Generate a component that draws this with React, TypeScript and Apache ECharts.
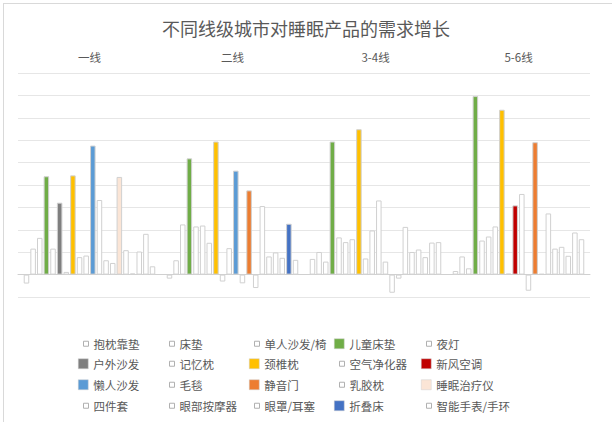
import React, { useEffect, useRef } from "react";
import * as echarts from "echarts";

const title = "不同线级城市对睡眠产品的需求增长";
const tiers = ["一线", "二线", "3-4线", "5-6线"];
const products = [
  "抱枕靠垫", "床垫", "单人沙发/椅", "儿童床垫", "夜灯",
  "户外沙发", "记忆枕", "颈椎枕", "空气净化器", "新风空调",
  "懒人沙发", "毛毯", "静音门", "乳胶枕", "睡眠治疗仪",
  "四件套", "眼部按摩器", "眼罩/耳塞", "折叠床", "智能手表/手环",
];
// series colour (null = plain white bar)
const productColors: (string | null)[] = [
  null, null, null, "#70AD47", null,
  "#7F7F7F", null, "#FFC000", null, "#C00000",
  "#5B9BD5", null, "#ED7D31", null, "#FBE5D6",
  null, null, null, "#4472C4", null,
];
// values per tier, in product order
const tier1 = [-0.4, 1.16, 1.64, 4.39, 1.16, 3.21, 0.12, 4.43, 0.78, 0.85, 5.76, 3.33, 0.64, 0.52, 4.36, 1.09, 0.05, 1.03, 1.82, 0.37];
const tier2 = [-0.18, 0.64, 2.24, 5.19, 2.15, 2.19, 1.42, 5.94, -0.31, 1.18, 4.64, -0.39, 3.76, -0.6, 3.06, 0.81, 0.99, 0.75, 2.27, 0.66];
const tier34 = [0.7, 1.01, 0.58, 5.94, 1.66, 1.45, 1.58, 6.49, 0.72, 1.97, 3.31, 0.58, -0.81, -0.18, 2.13, 1.01, 1.12, 0.78, 1.43, 1.45];
const tier56 = [0.16, 0.81, 0.28, 7.97, 1.52, 1.7, 2.15, 7.36, 0.04, 3.09, 3.6, -0.72, 5.91, 0.03, 2.73, 1.16, 1.24, 0.84, 1.88, 1.58];
// which products are coloured in each tier
const highlight1 = ["儿童床垫", "户外沙发", "颈椎枕", "懒人沙发", "睡眠治疗仪"];
const highlight2 = ["儿童床垫", "颈椎枕", "懒人沙发", "静音门", "折叠床"];
const highlight34 = ["儿童床垫", "颈椎枕"];
const highlight56 = ["儿童床垫", "颈椎枕", "新风空调", "静音门"];

const tierValues = [tier1, tier2, tier34, tier56];
const tierHighlights = [highlight1, highlight2, highlight34, highlight56];

const legendTextX = [93, 179, 264, 349, 436];
const legendRowY = [345, 365, 386, 407];

export default function App() {
  const ref = useRef<HTMLDivElement>(null);
  useEffect(() => {
    document.body.style.margin = "0";
    if (!ref.current) return;
    const chart = echarts.init(ref.current, null, { renderer: "svg" });
    const font = "'Noto Sans CJK SC', 'Noto Sans', sans-serif";
    const border = "#d0d0d0";

    const series = products.map((name, i) => {
      const c = productColors[i];
      return {
        name,
        type: "bar",
        xAxisIndex: 0,
        yAxisIndex: 0,
        barGap: "20%",
        barCategoryGap: "8%",
        itemStyle: { color: c || "#ffffff", borderColor: border, borderWidth: 1 },
        emphasis: { disabled: true },
        data: tierValues.map((vals, g) => {
          const on = c && tierHighlights[g].includes(name);
          return {
            value: vals[i],
            itemStyle: { color: on ? c : "#ffffff", borderColor: border, borderWidth: 1 },
          };
        }),
      };
    });

    const legends = products.map((name, i) => {
      const c = productColors[i];
      const col = i % 5;
      const row = Math.floor(i / 5);
      const iw = c ? 10 : 5;
      return {
        show: true,
        selectedMode: false,
        padding: 0,
        left: legendTextX[col] - 5 - iw,
        top: legendRowY[row] - 7,
        itemWidth: iw,
        itemHeight: iw,
        textStyle: { fontSize: 11.5, color: "#595959", fontFamily: font },
        data: [
          {
            name,
            icon: "rect",
            itemStyle: c
              ? { color: c, borderColor: border, borderWidth: 0.5 }
              : { color: "#ffffff", borderColor: "#b0b0b0", borderWidth: 1 },
          },
        ],
      };
    });

    chart.setOption({
      animation: false,
      title: {
        text: title,
        left: "center",
        top: 14,
        textStyle: { fontSize: 18, fontWeight: "normal", color: "#595959", fontFamily: font },
      },
      legend: legends,
      grid: { left: 18, right: 22, top: 73, bottom: 133 },
      xAxis: [
        {
          type: "category",
          data: tiers,
          position: "bottom",
          axisLine: { show: true, onZero: true, lineStyle: { color: "#d0d0d0", width: 1 } },
          axisTick: { show: false },
          axisLabel: { show: false },
        },
        {
          type: "category",
          data: tiers,
          position: "top",
          axisLine: { show: false },
          axisTick: { show: false },
          axisLabel: { show: true, margin: 10, fontSize: 11.5, color: "#595959", fontFamily: font },
        },
      ],
      yAxis: {
        type: "value",
        min: -1,
        max: 9,
        interval: 1,
        axisLine: { show: false },
        axisTick: { show: false },
        axisLabel: { show: false },
        splitLine: { lineStyle: { color: "#e6e6e6", width: 1 } },
      },
      graphic: [
        { type: "line", shape: { x1: 3, y1: 3.5, x2: 612, y2: 3.5 }, style: { stroke: "#d9d9d9", lineWidth: 1 } },
        { type: "line", shape: { x1: 3.5, y1: 3, x2: 3.5, y2: 422 }, style: { stroke: "#d9d9d9", lineWidth: 1 } },
      ],
      series,
    });
    return () => chart.dispose();
  }, []);
  return <div ref={ref} style={{ width: 612, height: 430 }} />;
}
